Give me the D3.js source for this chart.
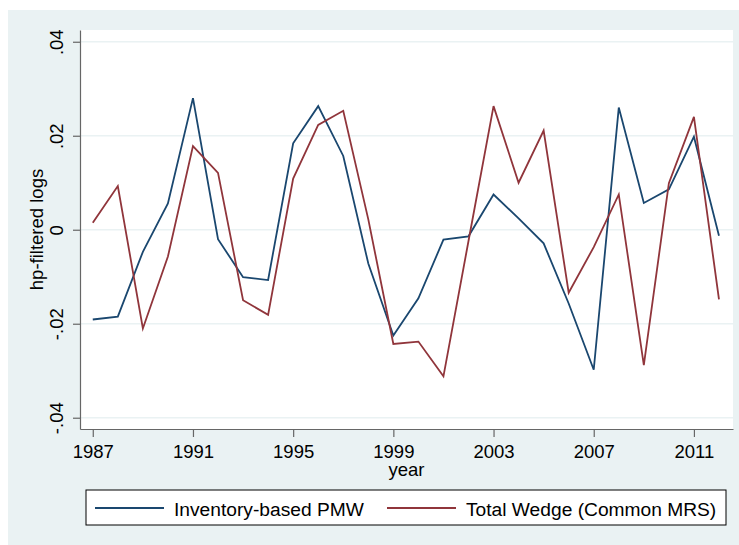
<!DOCTYPE html>
<html>
<head>
<meta charset="utf-8">
<script src="https://cdn.jsdelivr.net/npm/d3@7"></script>
<style>
    body { margin: 0; background: #fff; }
    svg { display: block; }
    text { font-family: "Liberation Sans", Arial, sans-serif; fill: #000; }
</style>
</head>
<body>
<svg id="chart" width="739" height="545"></svg>
<script>
var years = [1987, 1988, 1989, 1990, 1991, 1992, 1993, 1994, 1995, 1996, 1997, 1998, 1999,
             2000, 2001, 2002, 2003, 2004, 2005, 2006, 2007, 2008, 2009, 2010, 2011, 2012];

var pmw = [-0.0191, -0.0185, -0.0047, 0.0056, 0.0280, -0.0020, -0.0101, -0.0107, 0.0184,
           0.0263, 0.0157, -0.0072, -0.0225, -0.0146, -0.0021, -0.0014, 0.0075, 0.0024,
           -0.0029, -0.0157, -0.0298, 0.0260, 0.0057, 0.0086, 0.0198, -0.0013];

var totalWedge = [0.0015, 0.0093, -0.0210, -0.0057, 0.0178, 0.0121, -0.0150, -0.0181, 0.0109,
                  0.0223, 0.0253, 0.0022, -0.0243, -0.0238, -0.0312, -0.0024, 0.0263, 0.0100,
                  0.0211, -0.0134, -0.0037, 0.0075, -0.0288, 0.0099, 0.0240, -0.0148];

var xTicks = [1987, 1991, 1995, 1999, 2003, 2007, 2011];
var yTicks = [-0.04, -0.02, 0, 0.02, 0.04];
var yTickLabels = ['-.04', '-.02', '0', '.02', '.04'];

var seriesNames = ['Inventory-based PMW', 'Total Wedge (Common MRS)'];
var seriesColors = ['#1a476f', '#90353b'];

var width = 739,
    height = 545,
    plot = {left: 80, right: 733, top: 30, bottom: 429},
    fontSize = '18.5px';

var svg = d3.select('#chart');

// stata-style outer panel
svg.append('rect')
    .attr('x', 8).attr('y', 10)
    .attr('width', width - 8).attr('height', height - 10)
    .attr('fill', '#eaf2f3');

svg.append('rect')
    .attr('x', plot.left).attr('y', plot.top)
    .attr('width', plot.right - plot.left).attr('height', plot.bottom - plot.top)
    .attr('fill', '#fff');

var x = d3.scaleLinear()
    .domain([1986.49, 2012.56])
    .range([plot.left, plot.right]);

var y = d3.scaleLinear()
    .domain([-0.0424, 0.0425])
    .range([plot.bottom, plot.top]);

// gridlines
svg.append('g')
    .selectAll('line')
    .data(yTicks)
  .enter().append('line')
    .attr('x1', plot.left).attr('x2', plot.right)
    .attr('y1', function(d) { return y(d); })
    .attr('y2', function(d) { return y(d); })
    .attr('stroke', '#eaf2f3')
    .attr('stroke-width', 1.5);

var yAxis = svg.append('g')
    .attr('transform', 'translate(' + plot.left + ',0)')
    .call(d3.axisLeft(y)
        .tickValues(yTicks)
        .tickSize(7)
        .tickSizeOuter(0)
        .tickFormat(function(d, i) { return yTickLabels[i]; }));

yAxis.selectAll('text')
    .attr('transform', 'rotate(-90)')
    .attr('x', 0)
    .attr('y', -17)
    .attr('dy', 0)
    .attr('text-anchor', 'middle')
    .style('font-size', fontSize);

var xAxis = svg.append('g')
    .attr('transform', 'translate(0,' + plot.bottom + ')')
    .call(d3.axisBottom(x)
        .tickValues(xTicks)
        .tickSize(8)
        .tickSizeOuter(0)
        .tickFormat(d3.format('d')));

xAxis.selectAll('text')
    .attr('y', 29)
    .attr('dy', 0)
    .style('font-size', fontSize);

svg.selectAll('.domain').attr('stroke', '#666').attr('stroke-width', 1.2);
svg.selectAll('.tick line').attr('stroke', '#666').attr('stroke-width', 1.2);

// axis titles
svg.append('text')
    .attr('x', (plot.left + plot.right) / 2)
    .attr('y', 476)
    .attr('text-anchor', 'middle')
    .style('font-size', fontSize)
    .text('year');

svg.append('text')
    .attr('transform', 'translate(43,' + ((plot.top + plot.bottom) / 2) + ') rotate(-90)')
    .attr('text-anchor', 'middle')
    .style('font-size', fontSize)
    .text('hp-filtered logs');

var line = d3.line()
    .x(function(d, i) { return x(years[i]); })
    .y(function(d) { return y(d); });

svg.append('g')
    .selectAll('path')
    .data([pmw, totalWedge])
  .enter().append('path')
    .attr('d', line)
    .attr('fill', 'none')
    .attr('stroke', function(d, i) { return seriesColors[i]; })
    .attr('stroke-width', 1.8)
    .attr('stroke-linejoin', 'miter');

// legend
var legend = svg.append('g');
legend.append('rect')
    .attr('x', 86).attr('y', 490)
    .attr('width', 640).attr('height', 35)
    .attr('fill', '#fff')
    .attr('stroke', '#000')
    .attr('stroke-width', 1);

var legendX = [95, 387];
var items = legend.selectAll('g.item')
    .data(seriesNames)
  .enter().append('g')
    .attr('transform', function(d, i) { return 'translate(' + legendX[i] + ',508)'; });

items.append('line')
    .attr('x1', 0).attr('x2', 69)
    .attr('stroke', function(d, i) { return seriesColors[i]; })
    .attr('stroke-width', 1.8);

items.append('text')
    .attr('x', 79)
    .attr('y', 7.5)
    .style('font-size', '19.2px')
    .text(function(d) { return d; });
</script>
</body>
</html>
